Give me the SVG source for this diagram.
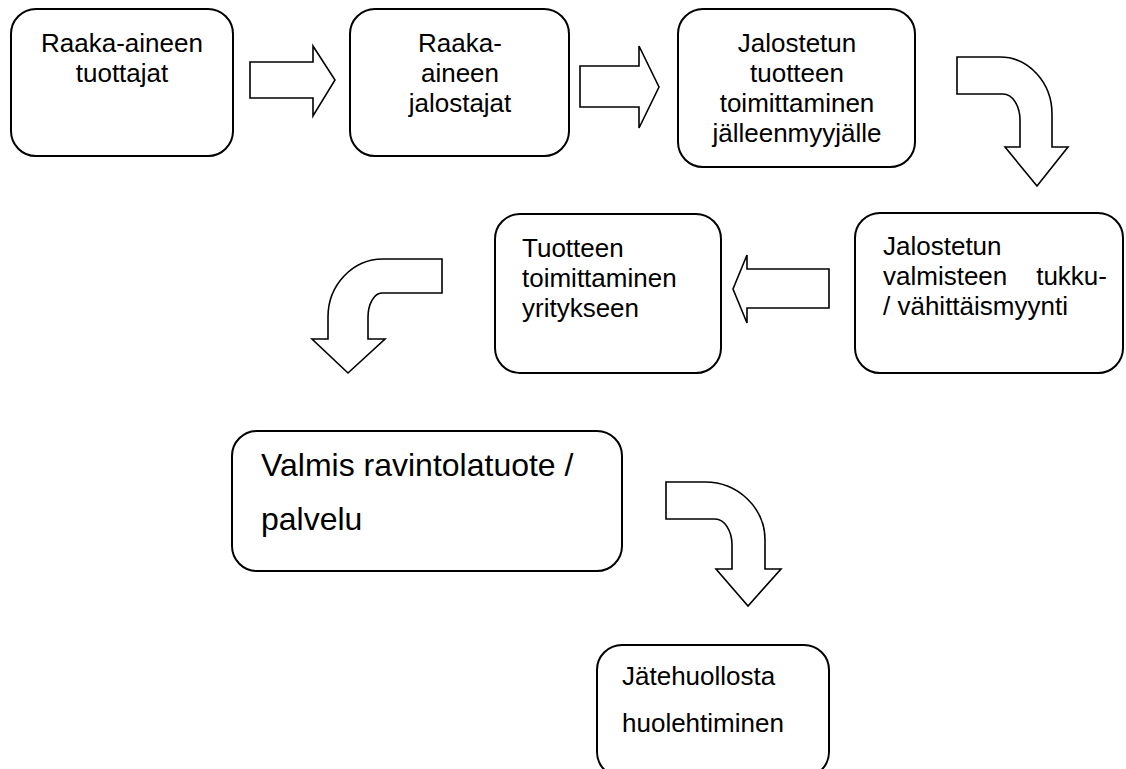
<svg xmlns="http://www.w3.org/2000/svg" width="1126" height="769" viewBox="0 0 1126 769">
<style>
.box{fill:#fff;stroke:#000;stroke-width:2}
.arr{fill:#fff;stroke:#000;stroke-width:1.6;stroke-linejoin:miter}
text{font-family:"Liberation Sans",Arial,sans-serif;font-size:26px;fill:#000}
.c{text-anchor:middle}
.big{font-size:32px}
</style>
<rect width="1126" height="769" fill="#fff"/>
<g id="connectors">
<path class="arr" d="M250,62 H313 V46 L335,80 L313,116 V98 H250 Z"/>
<path class="arr" d="M580,66 H639 V46 L659,87 L639,128 V107 H580 Z"/>
<path class="arr" d="M957,57 H1000 A52,57 0 0 1 1052,114 V147 H1068 L1037,186 L1005,147 H1020 V120 A17,26 0 0 0 1003,94 H957 Z"/>
<path class="arr" d="M829,269 H747 V255 L733,289 L747,323 V308 H829 Z"/>
<path class="arr" d="M442,259 H383 A55,58 0 0 0 328,317 V339 H312 L348,373 L385,339 H368 V317 A14,24 0 0 1 382,293 H442 Z"/>
<path class="arr" d="M666,482 H705 A60,58 0 0 1 765,540 V569 H781 L748,606 L716,569 H732 V545 A17,26 0 0 0 715,519 H666 Z"/>
</g>
<g id="n1">
<rect class="box" x="11" y="9" width="222" height="147" rx="25"/>
<text class="c" x="122" y="52">Raaka-aineen</text>
<text class="c" x="122" y="82">tuottajat</text>
</g>
<g id="n2">
<rect class="box" x="350" y="9" width="219" height="147" rx="25"/>
<text class="c" x="460" y="52">Raaka-</text>
<text class="c" x="460" y="82">aineen</text>
<text class="c" x="460" y="112">jalostajat</text>
</g>
<g id="n3">
<rect class="box" x="678" y="9" width="237" height="158" rx="25"/>
<text class="c" x="797" y="52">Jalostetun</text>
<text class="c" x="797" y="82">tuotteen</text>
<text class="c" x="797" y="112">toimittaminen</text>
<text class="c" x="797" y="142">jälleenmyyjälle</text>
</g>
<g id="n4">
<rect class="box" x="855" y="213" width="268" height="160" rx="25"/>
<text x="883" y="255">Jalostetun</text>
<text x="883" y="285">valmisteen</text>
<text x="1107" y="285" text-anchor="end">tukku-</text>
<text x="883" y="315">/ vähittäismyynti</text>
</g>
<g id="n5">
<rect class="box" x="495" y="214" width="226" height="159" rx="25"/>
<text x="522" y="257">Tuotteen</text>
<text x="522" y="287">toimittaminen</text>
<text x="522" y="317">yritykseen</text>
</g>
<g id="n6">
<rect class="box" x="232" y="431" width="390" height="140" rx="25"/>
<text class="big" x="261" y="476">Valmis ravintolatuote /</text>
<text class="big" x="261" y="530">palvelu</text>
</g>
<g id="n7">
<rect class="box" x="597" y="645" width="232" height="132" rx="25"/>
<text x="622" y="685">Jätehuollosta</text>
<text x="622" y="732">huolehtiminen</text>
</g>
</svg>
